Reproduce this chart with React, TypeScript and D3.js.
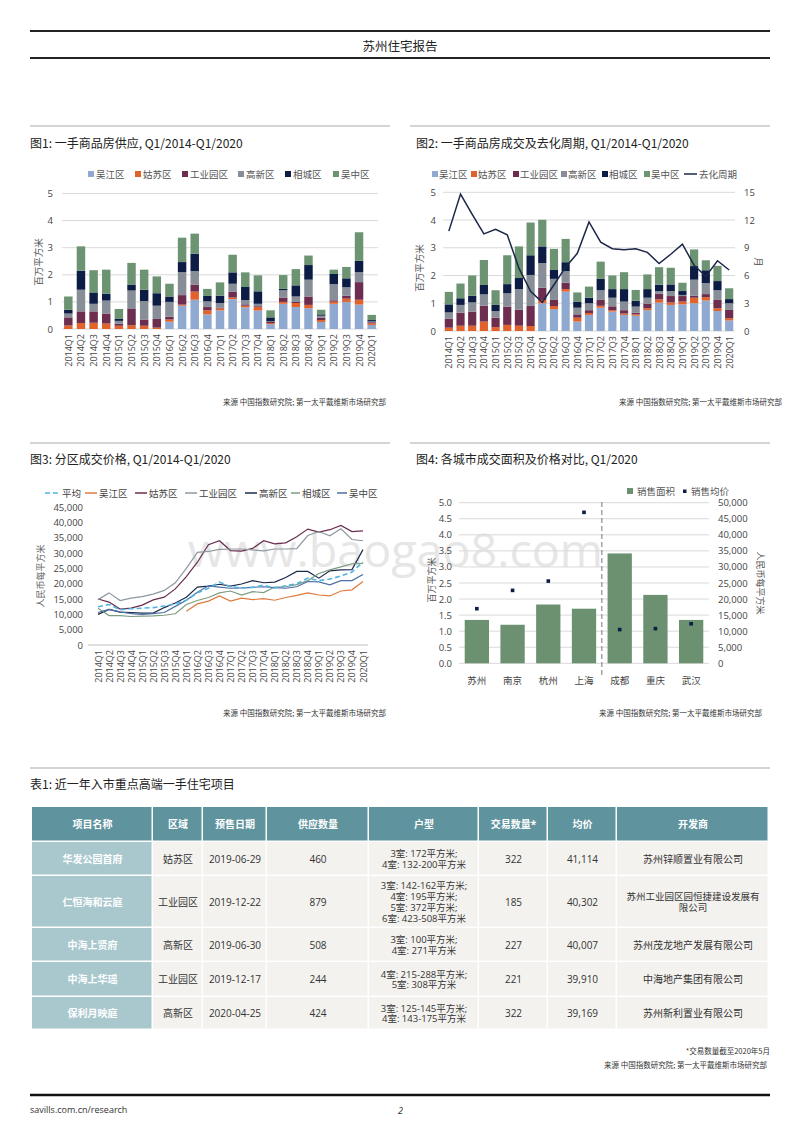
import React from "react";
import * as d3 from "d3";

const quarters = [
  "2014Q1", "2014Q2", "2014Q3", "2014Q4", "2015Q1", "2015Q2", "2015Q3", "2015Q4",
  "2016Q1", "2016Q2", "2016Q3", "2016Q4", "2017Q1", "2017Q2", "2017Q3", "2017Q4",
  "2018Q1", "2018Q2", "2018Q3", "2018Q4", "2019Q1", "2019Q2", "2019Q3", "2019Q4", "2020Q1",
];
const districts = ["吴江区", "姑苏区", "工业园区", "高新区", "相城区", "吴中区"];
const districtColors = ["#8fa9d0", "#e2622b", "#6c2d4f", "#878e98", "#0c1c44", "#6c9473"];

// 图1 supply, million sqm
const supplyWujiang = [0, 0, 0, 0, 0, 0, 0, 0, 0.27, 0.86, 1.08, 0.54, 0.69, 1.1, 0.8, 0.68, 0.18, 0.93, 0.81, 0.77, 0.26, 0.93, 1.0, 0.9, 0.15];
const supplyGusu = [0.13, 0.22, 0.23, 0.2, 0.12, 0.14, 0.12, 0.05, 0.08, 0.04, 0.3, 0.15, 0.07, 0.06, 0.06, 0.13, 0.04, 0.07, 0.15, 0.12, 0.07, 0.08, 0.12, 0.18, 0.06];
const supplyGongye = [0.3, 0.43, 0.42, 0.37, 0.08, 0.62, 0.23, 0.32, 0.1, 0.35, 0.26, 0.12, 0.02, 0.21, 0.05, 0.03, 0.04, 0.16, 0.04, 0.31, 0.08, 0.05, 0.11, 0.65, 0.04];
const supplyGaoxin = [0.14, 0.8, 0.28, 0.48, 0.1, 0.66, 0.68, 0.49, 0.55, 0.85, 0.5, 0.21, 0.18, 0.3, 0.16, 0.09, 0.02, 0.27, 0.2, 0.62, 0.08, 0.6, 0.31, 0.37, 0.03];
const supplyXiangcheng = [0.14, 0.7, 0.42, 0.25, 0.07, 0.22, 0.42, 0.46, 0.2, 0.37, 0.64, 0.2, 0.27, 0.42, 0.48, 0.46, 0.15, 0.05, 0.41, 0.54, 0.05, 0.37, 0.33, 0.42, 0.05];
const supplyWuzhong = [0.49, 0.9, 0.82, 0.89, 0.37, 0.8, 0.74, 0.62, 0.47, 0.9, 0.74, 0.26, 0.49, 0.65, 0.54, 0.59, 0.26, 0.51, 0.6, 0.35, 0.17, 0.16, 0.42, 1.05, 0.19];

// 图2 sales, million sqm + months of inventory
const salesWujiang = [0, 0, 0, 0, 0, 0, 0, 0, 1.0, 0.79, 1.42, 0.34, 0.58, 0.84, 0.7, 0.58, 0.55, 0.75, 1.02, 0.94, 0.96, 1.0, 1.1, 0.72, 0.38];
const salesGusu = [0.12, 0.19, 0.19, 0.34, 0.14, 0.22, 0.19, 0.18, 0.12, 0.11, 0.09, 0.14, 0.07, 0.07, 0.05, 0.05, 0.05, 0.07, 0.12, 0.09, 0.1, 0.2, 0.12, 0.1, 0.08];
const salesGongye = [0.32, 0.47, 0.51, 0.57, 0.34, 0.66, 0.58, 0.72, 0.44, 0.22, 0.23, 0.12, 0.1, 0.21, 0.14, 0.12, 0.06, 0.17, 0.2, 0.23, 0.2, 0.07, 0.11, 0.3, 0.3];
const salesGaoxin = [0.23, 0.28, 0.33, 0.41, 0.24, 0.48, 0.74, 1.12, 0.89, 0.76, 0.42, 0.24, 0.25, 0.35, 0.31, 0.31, 0.22, 0.21, 0.1, 0.18, 0.04, 0.58, 0.4, 0.35, 0.24];
const salesXiangcheng = [0.29, 0.24, 0.24, 0.34, 0.22, 0.33, 0.4, 0.71, 0.6, 0.32, 0.32, 0.22, 0.2, 0.41, 0.31, 0.45, 0.21, 0.31, 0.23, 0.24, 0.14, 0.49, 0.46, 0.33, 0.15];
const salesWuzhong = [0.45, 0.53, 0.73, 0.9, 0.53, 1.04, 1.14, 1.18, 0.96, 0.76, 0.84, 0.33, 0.4, 0.62, 0.49, 0.61, 0.39, 0.53, 0.63, 0.6, 0.3, 0.6, 0.36, 0.55, 0.39];
const inventoryMonths = [10.8, 14.8, 12.6, 10.5, 11.0, 10.4, 6.8, 4.3, 3.1, 5.0, 6.9, 8.4, 11.8, 9.6, 8.9, 8.8, 8.9, 8.5, 7.3, 8.3, 9.4, 7.1, 5.9, 7.6, 6.6];
const monthTicks = [0, 3, 6, 9, 12, 15];

// 图3 prices, RMB/sqm
const priceNames = ["平均", "吴江区", "姑苏区", "工业园区", "高新区", "相城区", "吴中区"];
const priceColors = ["#52b4e2", "#e07a3c", "#6a2d4e", "#8e979f", "#1b2a4c", "#7d9c81", "#4d6fa6"];
const priceAvg = [12500, 13200, 11500, 11800, 12000, 12200, 12700, 13400, 14600, 17000, 18500, 20500, 19000, 18600, 18800, 19500, 18600, 19300, 20000, 21800, 21000, 21500, 22500, 23800, 27000];
const priceWujiang = [null, null, null, null, null, null, null, null, 11000, 13400, 14300, 16000, 14300, 15300, 14800, 15100, 14600, 15500, 16200, 17000, 16300, 16000, 17600, 18000, 20700];
const priceGusu = [15000, 14000, 11700, 12000, 13000, 14700, 15600, 18300, 22300, 27000, 32700, 34000, 30800, 30600, 31500, 34000, 33000, 33300, 35300, 37800, 36800, 37600, 39000, 37000, 37200];
const priceGongye = [14800, 17000, 14500, 15300, 15800, 16600, 17800, 20300, 25000, 30200, 30500, 31200, 31300, 31300, 31000, 30700, 31300, 31300, 31400, 35700, 37000, 35600, 37900, 34400, 34000];
const priceGaoxin = [10000, 11600, 10700, 10600, 10400, 10400, 12200, 13700, 15600, 18900, 19200, 19800, 19200, 19900, 21000, 20300, 20500, 22000, 24000, 24000, 21800, 24200, 24500, 24600, 31100];
const priceXiangcheng = [12000, 9600, 9600, 9300, 9400, 9500, 9700, 10200, 13200, 14500, 15500, 17000, 17600, 16300, 17400, 17100, 18900, 19000, 19700, 21000, 23300, 24500, 25500, 26500, 26600];
const priceWuzhong = [10600, 11600, 10800, 10200, 10000, 10200, 10600, 12600, 14600, 17200, 19300, 18900, 18500, 18600, 18800, 19000, 18700, 18500, 19000, 20700, 20600, 19600, 21000, 21000, 23000];

// 图4 cities
const cities = ["苏州", "南京", "杭州", "上海", "成都", "重庆", "武汉"];
const cityArea = [1.35, 1.2, 1.83, 1.7, 3.42, 2.13, 1.35];
const cityPrice = [17000, 22700, 25600, 47000, 10500, 10800, 12300];

// 表1
const tableHeaders = ["项目名称", "区域", "预售日期", "供应数量", "户型", "交易数量*", "均价", "开发商"];
const projectNames = ["华发公园首府", "仁恒海和云庭", "中海上贤府", "中海上华瑶", "保利月映庭"];
const projectDistricts = ["姑苏区", "工业园区", "高新区", "工业园区", "高新区"];
const presaleDates = ["2019-06-29", "2019-12-22", "2019-06-30", "2019-12-17", "2020-04-25"];
const supplyUnits = ["460", "879", "508", "244", "424"];
const unitTypes = [
  ["3室: 172平方米;", "4室: 132-200平方米"],
  ["3室: 142-162平方米;", "4室: 195平方米;", "5室: 372平方米;", "6室: 423-508平方米"],
  ["3室: 100平方米;", "4室: 271平方米"],
  ["4室: 215-288平方米;", "5室: 308平方米"],
  ["3室: 125-145平方米;", "4室: 143-175平方米"],
];
const dealUnits = ["322", "185", "227", "221", "322"];
const avgPrices = ["41,114", "40,302", "40,007", "39,910", "39,169"];
const developers = [
  ["苏州锌顺置业有限公司"],
  ["苏州工业园区园恒捷建设发展有", "限公司"],
  ["苏州茂龙地产发展有限公司"],
  ["中海地产集团有限公司"],
  ["苏州新利置业有限公司"],
];

const FONT = "'Open Sans', 'Noto Sans CJK SC', sans-serif";
const CJK = "'Noto Sans CJK SC', sans-serif";
const SOURCE = "来源  中国指数研究院; 第一太平戴维斯市场研究部";
const GRID = "#d9d9d9";

function StackedBars({ values, x, y }) {
  const rows = quarters.map((q, i) => {
    const r: any = { q };
    districts.forEach((d, k) => (r[d] = values[k][i]));
    return r;
  });
  const series = d3.stack().keys(districts)(rows);
  return (
    <g>
      {series.map((s, k) => (
        <g key={k} fill={districtColors[k]}>
          {s.map((d, i) => (
            <rect key={i} x={x(quarters[i])} width={x.bandwidth()} y={y(d[1])} height={Math.max(0, y(d[0]) - y(d[1]))} />
          ))}
        </g>
      ))}
    </g>
  );
}

function QuarterLabels({ top, center }) {
  return (
    <g fontFamily={FONT} fontSize={9} fill="#444">
      {quarters.map((q) => (
        <text key={q} transform={`translate(${center(q)},${top}) rotate(-90)`} textAnchor="end" dominantBaseline="central">
          {q}
        </text>
      ))}
    </g>
  );
}

function SupplyChart() {
  const left = 62, right = 378, top = 193.5, bottom = 329;
  const x = d3.scaleBand().domain(quarters).range([left, right]).paddingInner(0.33).paddingOuter(0.165);
  const y = d3.scaleLinear().domain([0, 5]).range([bottom, top]);
  const legendX = [88, 135, 182, 238, 285, 333];
  return (
    <g>
      {y.ticks(5).map((t) => (
        <g key={t}>
          <line x1={left} x2={right} y1={y(t)} y2={y(t)} stroke={GRID} />
          <text x={53} y={y(t)} textAnchor="end" dominantBaseline="central" fontFamily={FONT} fontSize={9.5} fill="#444">{t}</text>
        </g>
      ))}
      <StackedBars values={[supplyWujiang, supplyGusu, supplyGongye, supplyGaoxin, supplyXiangcheng, supplyWuzhong]} x={x} y={y} />
      <QuarterLabels top={334} center={(q) => x(q) + x.bandwidth() / 2} />
      <text transform="translate(38,262) rotate(-90)" textAnchor="middle" dominantBaseline="central" fontFamily={CJK} fontSize={9.5} fill="#555">百万平方米</text>
      <g fontFamily={CJK} fontSize={9.5} fill="#555">
        {districts.map((d, k) => (
          <g key={d}>
            <rect x={legendX[k]} y={171} width={6} height={6} fill={districtColors[k]} />
            <text x={legendX[k] + 8} y={174} dominantBaseline="central">{d}</text>
          </g>
        ))}
      </g>
    </g>
  );
}

function SalesChart() {
  const left = 443, right = 735, top = 192.3, bottom = 331;
  const x = d3.scaleBand().domain(quarters).range([left, right]).paddingInner(0.3).paddingOuter(0.15);
  const y = d3.scaleLinear().domain([0, 5]).range([bottom, top]);
  const yR = d3.scaleLinear().domain([0, 15]).range([bottom, top]);
  const line = d3.line<number>().x((_, i) => x(quarters[i]) + x.bandwidth() / 2).y((d) => yR(d));
  const legendX = [432, 471, 513, 561, 602, 644];
  return (
    <g>
      {y.ticks(5).map((t) => (
        <line key={t} x1={left} x2={right} y1={y(t)} y2={y(t)} stroke={GRID} />
      ))}
      <g fontFamily={FONT} fontSize={9.5} fill="#444">
        {y.ticks(5).map((t) => (
          <text key={t} x={436} y={y(t)} textAnchor="end" dominantBaseline="central">{t}</text>
        ))}
        {monthTicks.map((t) => (
          <text key={t} x={744} y={yR(t)} dominantBaseline="central">{t}</text>
        ))}
      </g>
      <StackedBars values={[salesWujiang, salesGusu, salesGongye, salesGaoxin, salesXiangcheng, salesWuzhong]} x={x} y={y} />
      <path d={line(inventoryMonths)} fill="none" stroke="#1b2648" strokeWidth={1.5} />
      <QuarterLabels top={336} center={(q) => x(q) + x.bandwidth() / 2} />
      <text transform="translate(419,268) rotate(-90)" textAnchor="middle" dominantBaseline="central" fontFamily={CJK} fontSize={9.5} fill="#555">百万平方米</text>
      <text transform="translate(759,262) rotate(90)" textAnchor="middle" dominantBaseline="central" fontFamily={CJK} fontSize={9.5} fill="#555">月</text>
      <g fontFamily={CJK} fontSize={9.5} fill="#555">
        {districts.map((d, k) => (
          <g key={d}>
            <rect x={legendX[k]} y={171} width={6} height={6} fill={districtColors[k]} />
            <text x={legendX[k] + 7} y={174} dominantBaseline="central">{d}</text>
          </g>
        ))}
        <line x1={684} x2={697} y1={174} y2={174} stroke="#1b2648" strokeWidth={1.5} />
        <text x={699} y={174} dominantBaseline="central">去化周期</text>
      </g>
    </g>
  );
}

function PriceChart() {
  const left = 88, right = 368, top = 507, bottom = 645;
  const x = d3.scalePoint().domain(quarters).range([98, 363]);
  const y = d3.scaleLinear().domain([0, 45000]).range([bottom, top]);
  const all = [priceAvg, priceWujiang, priceGusu, priceGongye, priceGaoxin, priceXiangcheng, priceWuzhong];
  const line = d3.line<number | null>().defined((d) => d != null).x((_, i) => x(quarters[i])).y((d) => y(d as number));
  const order = [2, 3, 4, 5, 6, 1, 0];
  const legendLine = [[45, 60], [85, 97], [135, 147], [185, 197], [245, 257], [291, 300], [337, 347]];
  const fmt = d3.format(",");
  return (
    <g>
      <line x1={left} x2={right} y1={bottom} y2={bottom} stroke="#bfbfbf" />
      <g fontFamily={FONT} fontSize={9.5} fill="#444">
        {d3.range(0, 45001, 5000).map((t) => (
          <text key={t} x={83} y={y(t)} textAnchor="end" dominantBaseline="central">{fmt(t)}</text>
        ))}
      </g>
      {order.map((k) => (
        <path key={k} d={line(all[k])} fill="none" stroke={priceColors[k]} strokeWidth={k === 0 ? 1.6 : 1.2} strokeDasharray={k === 0 ? "5,3" : undefined} />
      ))}
      <QuarterLabels top={650} center={(q) => x(q)} />
      <text transform="translate(40,576) rotate(-90)" textAnchor="middle" dominantBaseline="central" fontFamily={CJK} fontSize={9} fill="#666">人民币每平方米</text>
      <g fontFamily={CJK} fontSize={9.5} fill="#444">
        {priceNames.map((n, k) => (
          <g key={n}>
            <line x1={legendLine[k][0]} x2={legendLine[k][1]} y1={493} y2={493} stroke={priceColors[k]} strokeWidth={1.5} strokeDasharray={k === 0 ? "5,3" : undefined} />
            <text x={legendLine[k][1] + 2} y={493} dominantBaseline="central">{n}</text>
          </g>
        ))}
      </g>
    </g>
  );
}

function CityChart() {
  const left = 459, right = 709, top = 502.7, bottom = 663.3;
  const x = d3.scaleBand().domain(cities).range([left, right]).paddingInner(0.32).paddingOuter(0.16);
  const y = d3.scaleLinear().domain([0, 5]).range([bottom, top]);
  const yR = d3.scaleLinear().domain([0, 50000]).range([bottom, top]);
  const ticks = d3.range(0, 5.01, 0.5);
  const divider = (x("上海") + x.bandwidth() + x("成都")) / 2;
  const fmtL = d3.format(".1f");
  const fmtR = d3.format(",");
  return (
    <g>
      {ticks.map((t) => (
        <line key={t} x1={left} x2={right} y1={y(t)} y2={y(t)} stroke={GRID} />
      ))}
      <g fontFamily={FONT} fontSize={9.5} fill="#444">
        {ticks.map((t) => (
          <text key={t} x={452} y={y(t)} textAnchor="end" dominantBaseline="central">{fmtL(t)}</text>
        ))}
        {d3.range(0, 50001, 5000).map((t) => (
          <text key={t} x={718} y={yR(t)} dominantBaseline="central">{fmtR(t)}</text>
        ))}
      </g>
      {cities.map((c, i) => (
        <rect key={c} x={x(c)} width={x.bandwidth()} y={y(cityArea[i])} height={bottom - y(cityArea[i])} fill="#6b9170" />
      ))}
      <line x1={divider} x2={divider} y1={502} y2={677} stroke="#777" strokeDasharray="5,3" />
      {cities.map((c, i) => (
        <rect key={c} x={x(c) + x.bandwidth() / 2 - 1.8} y={yR(cityPrice[i]) - 1.8} width={3.6} height={3.6} fill="#0c1c44" />
      ))}
      <g fontFamily={CJK} fontSize={9.5} fill="#444">
        {cities.map((c) => (
          <text key={c} x={x(c) + x.bandwidth() / 2} y={680} textAnchor="middle" dominantBaseline="central">{c}</text>
        ))}
      </g>
      <text transform="translate(431,580) rotate(-90)" textAnchor="middle" dominantBaseline="central" fontFamily={CJK} fontSize={9} fill="#555">百万平方米</text>
      <text transform="translate(760,583) rotate(90)" textAnchor="middle" dominantBaseline="central" fontFamily={CJK} fontSize={9} fill="#555">人民币每平方米</text>
      <g fontFamily={CJK} fontSize={9.5} fill="#555">
        <rect x={627} y={488} width={6} height={6} fill="#6b9170" />
        <text x={637} y={491} dominantBaseline="central">销售面积</text>
        <rect x={683} y={489.5} width={3.5} height={3.5} fill="#0c1c44" />
        <text x={691} y={491} dominantBaseline="central">销售均价</text>
      </g>
    </g>
  );
}

function ProjectTable() {
  const colEdges = [32, 153, 203, 267, 369, 479, 548, 617, 769];
  const rowEdges = [807, 842, 876, 928, 962, 997, 1030];
  const lh = 10.8;
  const cell = (lines: string[], cx: number, cy: number, color: string, bold = false) => (
    <text x={cx} textAnchor="middle" fill={color} fontWeight={bold ? 700 : 400} fontSize={lines.length > 1 ? 9.5 : 10}>
      {lines.map((l, j) => (
        <tspan key={j} x={cx} y={cy - ((lines.length - 1) * lh) / 2 + j * lh + 3.5}>{l}</tspan>
      ))}
    </text>
  );
  const body = projectNames.map((n, i) => [
    [n], [projectDistricts[i]], [presaleDates[i]], [supplyUnits[i]], unitTypes[i], [dealUnits[i]], [avgPrices[i]], developers[i],
  ]);
  return (
    <g fontFamily={FONT} fontSize={10}>
      {tableHeaders.map((h, c) => (
        <g key={h}>
          <rect x={colEdges[c]} y={rowEdges[0]} width={colEdges[c + 1] - colEdges[c] - 1.5} height={rowEdges[1] - rowEdges[0] - 1.5} fill="#5f949e" />
          {cell([h], (colEdges[c] + colEdges[c + 1]) / 2, (rowEdges[0] + rowEdges[1]) / 2, "#fff", true)}
        </g>
      ))}
      {body.map((row, r) =>
        row.map((lines, c) => {
          const cx = (colEdges[c] + colEdges[c + 1]) / 2;
          const cy = (rowEdges[r + 1] + rowEdges[r + 2]) / 2;
          return (
            <g key={r + "-" + c}>
              <rect x={colEdges[c]} y={rowEdges[r + 1]} width={colEdges[c + 1] - colEdges[c] - 1.5} height={rowEdges[r + 2] - rowEdges[r + 1] - 1.5} fill={c === 0 ? "#a9c8ce" : "#f4f2ef"} />
              {cell(lines, cx, cy, c === 0 ? "#fff" : "#333", c === 0)}
            </g>
          );
        })
      )}
    </g>
  );
}

export default function App() {
  return (
    <svg width={800} height={1132} style={{ position: "absolute", left: 0, top: 0, background: "#fff" }}>
      <rect width={800} height={1132} fill="#fff" />
      {/* header */}
      <line x1={30} x2={770} y1={31} y2={31} stroke="#222" strokeWidth={2} />
      <text x={400} y={45} textAnchor="middle" dominantBaseline="central" fontFamily={CJK} fontSize={12.5} fill="#222">苏州住宅报告</text>
      <line x1={30} x2={770} y1={58} y2={58} stroke="#222" strokeWidth={2} />

      {/* watermark */}
      <text x={188} y={567} fontFamily={FONT} fontSize={46} fill="#e6e6e6" textLength={415} lengthAdjust="spacingAndGlyphs">www.baogao8.com</text>

      {/* section titles */}
      <g stroke="#aaa" strokeWidth={1}>
        <line x1={30} x2={390} y1={126} y2={126} />
        <line x1={410} x2={770} y1={126} y2={126} />
        <line x1={30} x2={390} y1={443} y2={443} />
        <line x1={410} x2={770} y1={443} y2={443} />
        <line x1={30} x2={770} y1={768} y2={768} />
      </g>
      <g fontFamily={CJK} fontSize={12} fill="#222">
        <text x={30} y={142} dominantBaseline="central">图1: 一手商品房供应, Q1/2014-Q1/2020</text>
        <text x={416} y={142} dominantBaseline="central">图2:  一手商品房成交及去化周期, Q1/2014-Q1/2020</text>
        <text x={30} y={458} dominantBaseline="central">图3: 分区成交价格, Q1/2014-Q1/2020</text>
        <text x={416} y={458} dominantBaseline="central">图4: 各城市成交面积及价格对比, Q1/2020</text>
        <text x={30} y={783} dominantBaseline="central">表1: 近一年入市重点高端一手住宅项目</text>
      </g>

      <SupplyChart />
      <SalesChart />
      <PriceChart />
      <CityChart />
      <ProjectTable />

      {/* sources */}
      <g fontFamily={CJK} fontSize={7.5} fill="#333" textAnchor="end">
        <text x={386} y={401} dominantBaseline="central">{SOURCE}</text>
        <text x={782} y={401} dominantBaseline="central">{SOURCE}</text>
        <text x={386} y={712} dominantBaseline="central">{SOURCE}</text>
        <text x={762} y={712} dominantBaseline="central">{SOURCE}</text>
        <text x={770} y={1050} dominantBaseline="central">*交易数量截至2020年5月</text>
        <text x={767} y={1064} dominantBaseline="central">{SOURCE}</text>
      </g>

      {/* footer */}
      <line x1={30} x2={770} y1={1095} y2={1095} stroke="#111" strokeWidth={2.5} />
      <text x={30} y={1109} dominantBaseline="central" fontFamily={FONT} fontSize={9} fill="#333">savills.com.cn/research</text>
      <text x={398} y={1110} dominantBaseline="central" fontFamily={FONT} fontSize={9} fontStyle="italic" fill="#333">2</text>
    </svg>
  );
}
